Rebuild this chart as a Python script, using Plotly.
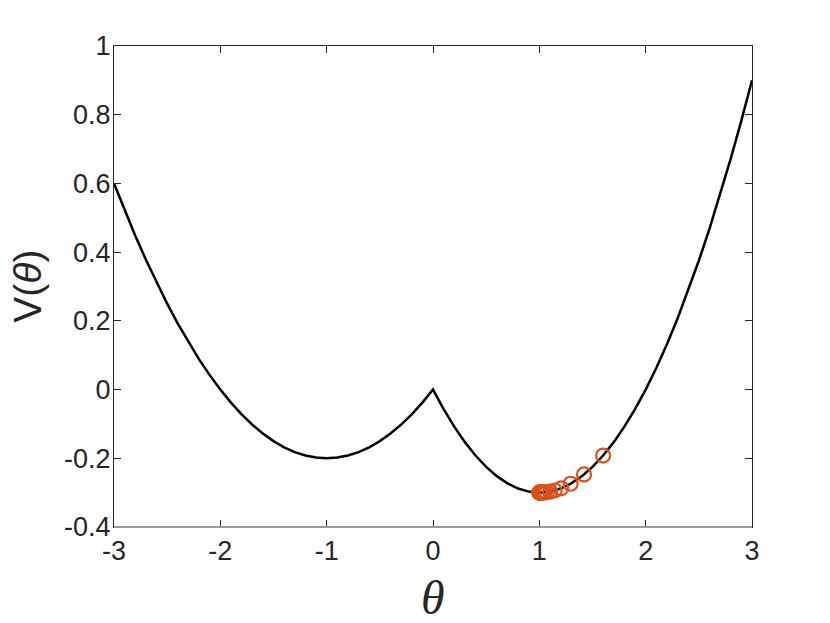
import plotly.graph_objects as go

# Curve samples
theta = [-3.0, -2.9, -2.8, -2.7, -2.6, -2.5, -2.4, -2.3, -2.2, -2.1,
         -2.0, -1.9, -1.8, -1.7, -1.6, -1.5, -1.4, -1.3, -1.2, -1.1,
         -1.0, -0.9, -0.8, -0.7, -0.6, -0.5, -0.4, -0.3, -0.2, -0.1,
         0.0, 0.1, 0.2, 0.3, 0.4, 0.5, 0.6, 0.7, 0.8, 0.9,
         1.0, 1.1, 1.2, 1.3, 1.4, 1.5, 1.6, 1.7, 1.8, 1.9,
         2.0, 2.1, 2.2, 2.3, 2.4, 2.5, 2.6, 2.7, 2.8, 2.9, 3.0]
V = [0.6, 0.522, 0.448, 0.378, 0.312, 0.25, 0.192, 0.138, 0.088, 0.042,
     0.0, -0.038, -0.072, -0.102, -0.128, -0.15, -0.168, -0.182, -0.192, -0.198,
     -0.2, -0.198, -0.192, -0.182, -0.168, -0.15, -0.128, -0.102, -0.072, -0.038,
     0.0, -0.057, -0.108, -0.153, -0.192, -0.225, -0.252, -0.273, -0.288, -0.297,
     -0.3, -0.297, -0.288, -0.273, -0.252, -0.225, -0.192, -0.153, -0.108, -0.057,
     0.0, 0.063, 0.132, 0.207, 0.288, 0.375, 0.468, 0.567, 0.672, 0.783, 0.9]

# Iterates (orange circles)
iter_theta = [1.6, 1.42, 1.294, 1.206, 1.144, 1.101, 1.071, 1.049, 1.035,
              1.024, 1.017, 1.012, 1.008, 1.006, 1.004, 1.003, 1.002, 1.001, 1.0]
iter_V = [-0.192, -0.2471, -0.2741, -0.2873, -0.2938, -0.2969, -0.2985, -0.2993,
          -0.2996, -0.2998, -0.2999, -0.3, -0.3, -0.3, -0.3, -0.3, -0.3, -0.3, -0.3]

x_ticks = [-3, -2, -1, 0, 1, 2, 3]
x_ticktext = ["-3", "-2", "-1", "0", "1", "2", "3"]
y_ticks = [-0.4, -0.2, 0, 0.2, 0.4, 0.6, 0.8, 1]
y_ticktext = ["-0.4", "-0.2", "0", "0.2", "0.4", "0.6", "0.8", "1"]

fig = go.Figure()
fig.add_trace(go.Scatter(x=theta, y=V, mode="lines",
                         line=dict(color="black", width=2.5), showlegend=False))
fig.add_trace(go.Scatter(x=iter_theta, y=iter_V, mode="markers",
                         marker=dict(symbol="circle-open", size=14,
                                     color="#D95319", line=dict(width=2.2, color="#D95319")),
                         showlegend=False))

tickfont = dict(family="Liberation Sans, Arial, sans-serif", size=27, color="#262626")
fig.update_layout(
    width=830, height=623,
    margin=dict(l=106, r=86, t=38, b=104),
    paper_bgcolor="white", plot_bgcolor="white",
    xaxis=dict(range=[-3, 3], tickvals=x_ticks, ticktext=x_ticktext,
               ticks="inside", ticklen=7, tickcolor="#262626", tickwidth=1,
               showline=True, linecolor="#262626", linewidth=1, mirror="ticks",
               showgrid=False, zeroline=False, tickfont=tickfont),
    yaxis=dict(range=[-0.4, 1], tickvals=y_ticks, ticktext=y_ticktext,
               ticks="inside", ticklen=7, tickcolor="#262626", tickwidth=1,
               showline=True, linecolor="#262626", linewidth=1, mirror="ticks",
               showgrid=False, zeroline=False, tickfont=tickfont,
               ticklabelstandoff=-3),
    shapes=[dict(type="line", xref="paper", yref="paper", x0=0, x1=1, y0=0, y1=0,
                 line=dict(color="#9a9a9a", width=2), layer="above")],
    annotations=[
        dict(text="V(<i>θ</i>)", xref="paper", yref="paper", x=-0.136, y=0.5,
             xanchor="center", yanchor="middle", textangle=-90, showarrow=False,
             font=dict(family="Liberation Sans, Arial, sans-serif", size=39, color="#262626")),
        dict(text="<i>θ</i>", xref="paper", yref="paper", x=0.5, y=-0.1476,
             xanchor="center", yanchor="middle", showarrow=False,
             font=dict(family="Liberation Serif, Times New Roman, serif", size=48, color="#262626")),
    ],
)

fig.write_html("out.html")
